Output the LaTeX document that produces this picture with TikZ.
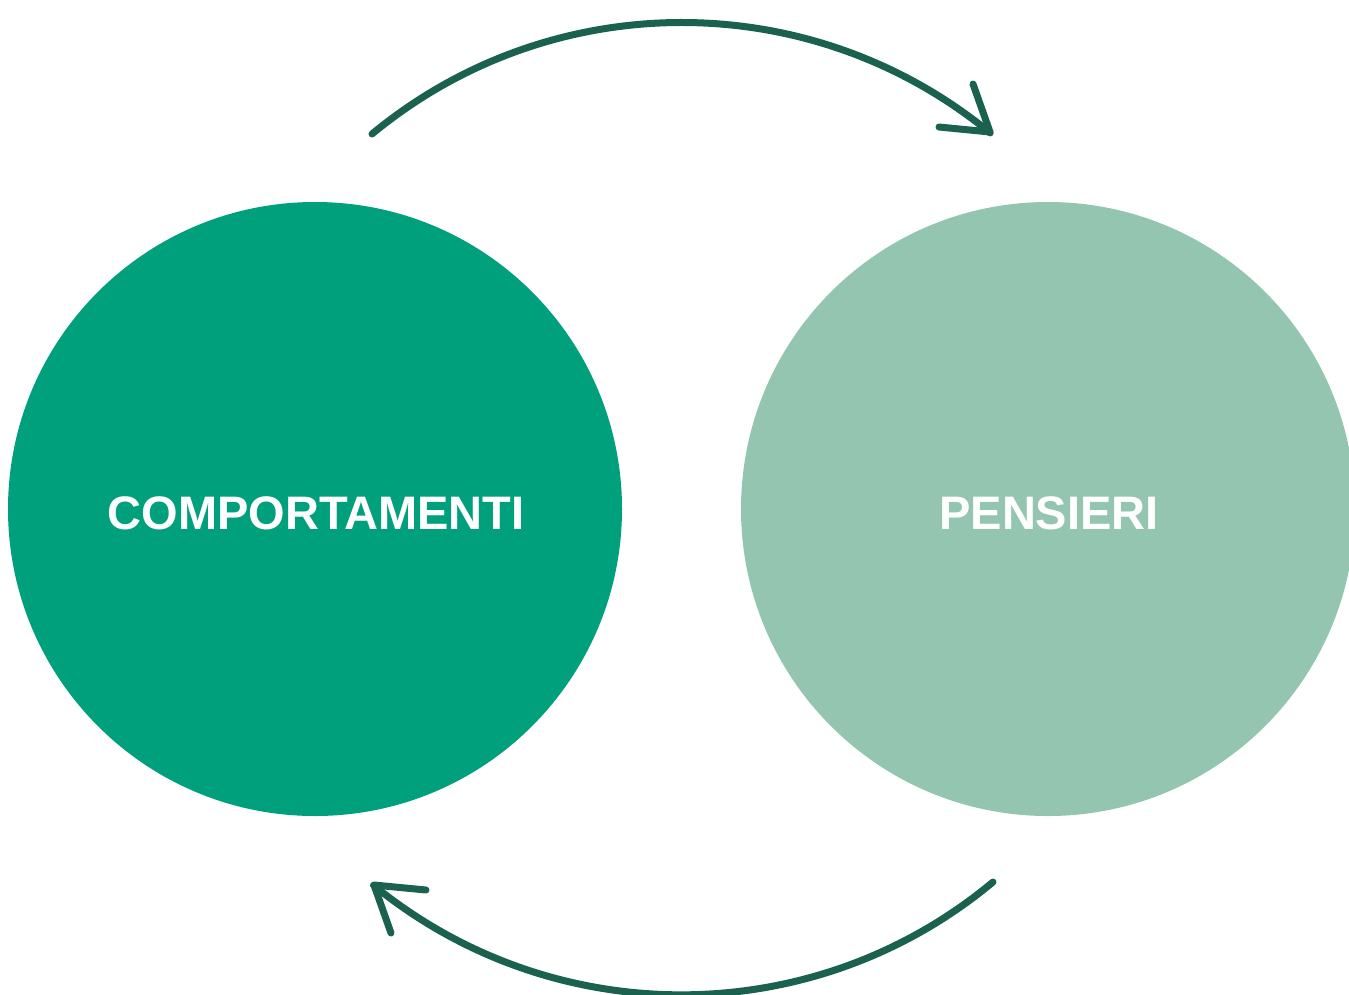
\documentclass[tikz,border=0pt]{standalone}
\usepackage{fontspec}
\setmainfont{Liberation Sans}
\definecolor{dark}{HTML}{00A07C}
\definecolor{light}{HTML}{94C5B1}
\definecolor{linecol}{HTML}{1A614F}
\begin{document}
\begin{tikzpicture}[x=1pt,y=-1pt,
  bubble/.style={circle,minimum size=614pt,inner sep=0pt},
  label/.style={text=white,font=\fontsize{47}{50}\selectfont\bfseries},
  loopline/.style={draw=linecol,line width=7pt,line cap=round,line join=round}]
\useasboundingbox (0,0) rectangle (1349,994);
\clip (0,0) rectangle (1349,994);
\node[bubble,fill=dark] (comp) at (315,509) {};
\node[bubble,fill=light] (pens) at (1048,509) {};
\node[label] (compl) at (316,513) {COMPORTAMENTI};
\node[label] (pensl) at (1049,513) {PENSIERI};
% top arc
\coordinate (topstart) at (372,134);
\coordinate (toptip) at (990,132);
\coordinate (topA) at (939,127);
\coordinate (topB) at (973,84);
\draw[loopline] (topstart) arc[start angle=-129.6,end angle=-50.6,radius=486];
\draw[loopline] (topA) -- (toptip) -- (topB);
% bottom arc
\coordinate (botstart) at (993,882);
\coordinate (bottip) at (374,885);
\coordinate (botA) at (426,890);
\coordinate (botB) at (391,933);
\draw[loopline] (botstart) arc[start angle=50.2,end angle=129.2,radius=487];
\draw[loopline] (botA) -- (bottip) -- (botB);
\end{tikzpicture}
\end{document}
